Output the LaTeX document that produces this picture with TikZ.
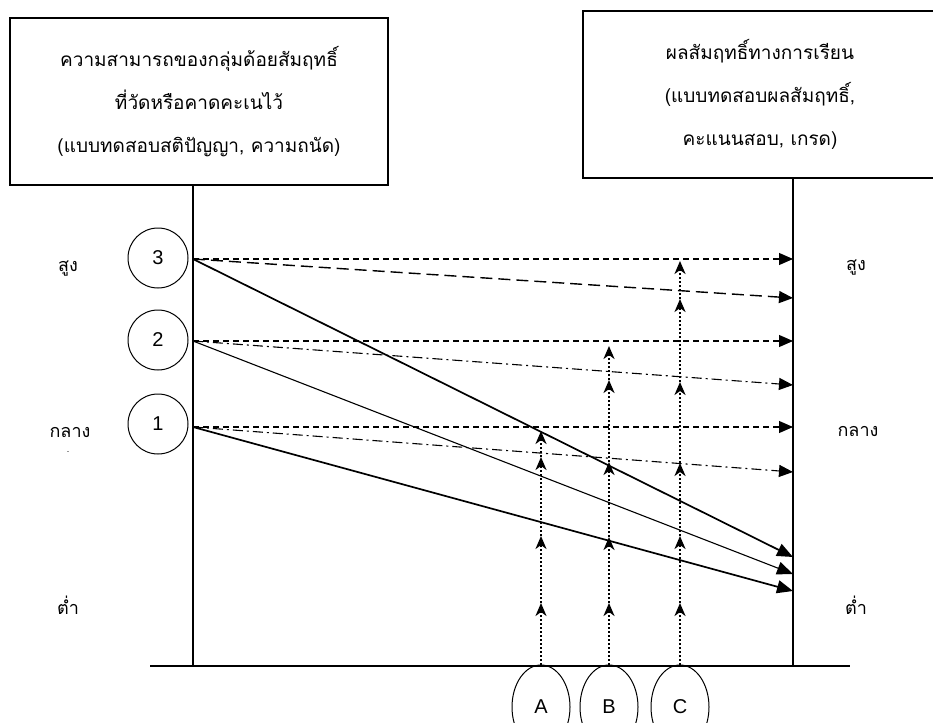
\documentclass[tikz,border=0pt]{standalone}
\usepackage{fontspec}
\setmainfont{Liberation Sans}
\newfontfamily\thaifont[Script=Thai]{Loma}
\usetikzlibrary{shapes.geometric,arrows.meta,positioning}

\begin{document}
\begin{tikzpicture}[
    x=1pt, y=-1pt,
    titlebox/.style={draw, line width=1.4pt, minimum height=167pt, align=center, inner sep=0pt,
        font=\thaifont\fontsize{19}{43}\selectfont},
    levellabel/.style={font=\thaifont\fontsize{18}{20}\selectfont},
    grade/.style={draw, circle, line width=1pt, minimum size=60pt, inner sep=0pt, font=\fontsize{20}{22}\selectfont},
    grpnode/.style={draw, ellipse, line width=1pt, minimum width=58pt, minimum height=84pt, inner sep=0pt, font=\fontsize{20}{22}\selectfont},
    axisline/.style={line width=1.4pt},
    flat/.style={line width=1.1pt, dash pattern=on 6pt off 4pt, -{Triangle[length=14pt,width=12pt]}},
    longdash/.style={line width=1.4pt, dash pattern=on 12pt off 6pt, -{Triangle[length=14pt,width=12pt]}},
    dashdot/.style={line width=1.1pt, dash pattern=on 10pt off 4pt on 2pt off 4pt, -{Triangle[length=14pt,width=12pt]}},
    drop/.style={line width=1.7pt, -{Triangle[length=16pt,width=13pt]}},
    updot/.style={line width=2.2pt, dash pattern=on 2pt off 2pt, -{Stealth[length=13pt,width=11pt,inset=4pt]}}
]
\useasboundingbox (0,0) rectangle (933,722);

% title boxes
\node[titlebox, minimum width=378pt] (ability) at (199,101.5)
    {ความสามารถของกลุ่มด้อยสัมฤทธิ์\\ที่วัดหรือคาดคะเนไว้\\(แบบทดสอบสติปัญญา, ความถนัด)};
\node[titlebox, minimum width=354pt] (result) at (760,94.5)
    {ผลสัมฤทธิ์ทางการเรียน\\(แบบทดสอบผลสัมฤทธิ์,\\คะแนนสอบ, เกรด)};

% axes and base
\coordinate (lbot) at (193,666);
\coordinate (rbot) at (793,666);
\draw[axisline] (ability.south -| lbot) -- (lbot);
\draw[axisline] (result.south -| rbot) -- (rbot);
\draw[axisline] (150,666) -- (850,666);

% levels
\node[levellabel] (lhigh) at (68,269) {สูง};
\node[levellabel] (lmid) at (70,432) {กลาง};
\node[inner sep=0pt, font=\fontsize{9}{9}\selectfont] (ldot) at (68,452) {.};
\node[levellabel] (llow) at (68,605) {ต่ำ};
\node[levellabel] (rhigh) at (856,268) {สูง};
\node[levellabel] (rmid) at (858,431) {กลาง};
\node[levellabel] (rlow) at (856,605) {ต่ำ};

% groups 3, 2, 1
\node[grade] (g3) at (158,258) {3};
\node[grade] (g2) at (158,340) {2};
\node[grade] (g1) at (158,424) {1};

\coordinate (s3) at (193,259);
\coordinate (s2) at (193,341);
\coordinate (s1) at (193,427);

\draw[flat] (s3) -- (s3 -| rbot);
\draw[flat] (s2) -- (s2 -| rbot);
\draw[flat] (s1) -- (s1 -| rbot);

\coordinate (e3) at (793,298);
\coordinate (e2) at (793,385);
\coordinate (e1) at (793,472);
\draw[longdash] (s3) -- (e3);
\draw[dashdot] (s2) -- (e2);
\draw[dashdot] (s1) -- (e1);

\coordinate (d3) at (793,557);
\coordinate (d2) at (793,574);
\coordinate (d1) at (793,591);
\draw[drop] (s3) -- (d3);
\draw[drop, line width=1.1pt] (s2) -- (d2);
\draw[drop] (s1) -- (d1);

% groups A, B, C
\node[grpnode] (ga) at (541,707) {A};
\node[grpnode] (gb) at (609,707) {B};
\node[grpnode] (gc) at (680,707) {C};

\foreach \y [count=\i] in {603,536,457,431}
    \coordinate (a\i) at (541,\y);
\foreach \y [count=\i] in {603,537,462,380,346}
    \coordinate (b\i) at (609,\y);
\foreach \y [count=\i] in {603,536,463,382,299,261}
    \coordinate (c\i) at (680,\y);

\draw[updot] (ga.north) -- (a1);
\draw[updot] (gb.north) -- (b1);
\draw[updot] (gc.north) -- (c1);
\foreach \i [evaluate=\i as \j using int(\i+1)] in {1,2,3}
    \draw[updot] (a\i) -- (a\j);
\foreach \i [evaluate=\i as \j using int(\i+1)] in {1,2,3,4}
    \draw[updot] (b\i) -- (b\j);
\foreach \i [evaluate=\i as \j using int(\i+1)] in {1,2,3,4,5}
    \draw[updot] (c\i) -- (c\j);
\end{tikzpicture}
\end{document}
